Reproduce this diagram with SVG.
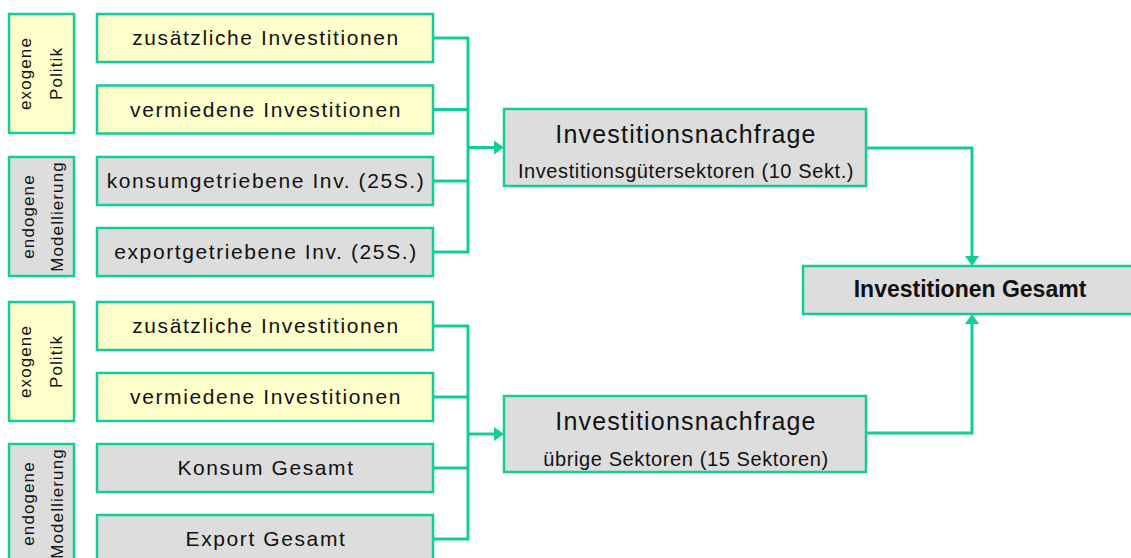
<svg xmlns="http://www.w3.org/2000/svg" width="1131" height="558" viewBox="0 0 1131 558">
<style>
  text { font-family: "Liberation Sans", Arial, sans-serif; fill: #111; }
  .box { stroke: #14CC9A; stroke-width: 2.5; }
  .yel { fill: #FFFFCC; }
  .gry { fill: #DDDDDD; }
  .lbl { font-size: 17px; letter-spacing: 1.1px; text-anchor: middle; }
  .src { font-size: 21px; letter-spacing: 1.6px; text-anchor: middle; }
  .ttl { font-size: 25px; letter-spacing: 1.2px; text-anchor: middle; }
  .sub { font-size: 20px; letter-spacing: 0.6px; text-anchor: middle; }
  .sum { font-size: 23px; font-weight: bold; text-anchor: middle; }
  .con { fill: none; stroke: #14CC9A; stroke-width: 3; }
</style>
<defs>
  <marker id="arr" markerWidth="11" markerHeight="14" refX="0" refY="7" orient="auto" markerUnits="userSpaceOnUse">
    <path d="M0,0 L10,7 L0,14 z" fill="#14CC9A"/>
  </marker>
</defs>

<g id="connectors">
  <path class="con" d="M433,38 H468 M433,109.5 H468 M433,181 H468 M433,252 H468 M468,36.5 V253.5"/>
  <path class="con" d="M468,147.5 H494" marker-end="url(#arr)"/>
  <path class="con" d="M433,326 H468 M433,397 H468 M433,468 H468 M433,539 H468 M468,324.5 V540.5"/>
  <path class="con" d="M468,434 H494" marker-end="url(#arr)"/>
  <path class="con" d="M866,148 H972 V256" marker-end="url(#arr)"/>
  <path class="con" d="M866,433 H972 V324" marker-end="url(#arr)"/>
</g>

<g id="label-exogene-top">
  <rect class="box yel" x="9" y="14" width="65" height="119"/>
  <text class="lbl" transform="translate(31,73.5) rotate(-90)">exogene</text>
  <text class="lbl" transform="translate(62,73.5) rotate(-90)">Politik</text>
</g>
<g id="label-endogene-top">
  <rect class="box gry" x="9" y="157" width="65" height="119"/>
  <text class="lbl" transform="translate(34,216.5) rotate(-90)">endogene</text>
  <text class="lbl" transform="translate(63,216.5) rotate(-90)">Modellierung</text>
</g>

<g id="top-zusaetzlich">
  <rect class="box yel" x="97" y="14" width="336" height="48"/>
  <text class="src" x="266" y="45">zusätzliche Investitionen</text>
</g>
<g id="top-vermiedene">
  <rect class="box yel" x="97" y="85.5" width="336" height="48"/>
  <text class="src" x="266" y="116.5">vermiedene Investitionen</text>
</g>
<g id="top-konsum">
  <rect class="box gry" x="97" y="157" width="336" height="48"/>
  <text class="src" x="266" y="188">konsumgetriebene Inv. (25S.)</text>
</g>
<g id="top-export">
  <rect class="box gry" x="97" y="228" width="336" height="48"/>
  <text class="src" x="266" y="259">exportgetriebene Inv. (25S.)</text>
</g>

<g id="label-exogene-bottom">
  <rect class="box yel" x="9" y="302" width="65" height="119"/>
  <text class="lbl" transform="translate(31,361.5) rotate(-90)">exogene</text>
  <text class="lbl" transform="translate(62,361.5) rotate(-90)">Politik</text>
</g>
<g id="label-endogene-bottom">
  <rect class="box gry" x="9" y="444" width="65" height="119"/>
  <text class="lbl" transform="translate(34,503.5) rotate(-90)">endogene</text>
  <text class="lbl" transform="translate(63,503.5) rotate(-90)">Modellierung</text>
</g>

<g id="bottom-zusaetzlich">
  <rect class="box yel" x="97" y="302" width="336" height="48"/>
  <text class="src" x="266" y="333">zusätzliche Investitionen</text>
</g>
<g id="bottom-vermiedene">
  <rect class="box yel" x="97" y="373" width="336" height="48"/>
  <text class="src" x="266" y="404">vermiedene Investitionen</text>
</g>
<g id="bottom-konsum">
  <rect class="box gry" x="97" y="444" width="336" height="48"/>
  <text class="src" x="266" y="475">Konsum Gesamt</text>
</g>
<g id="bottom-export">
  <rect class="box gry" x="97" y="515" width="336" height="48"/>
  <text class="src" x="266" y="546">Export Gesamt</text>
</g>

<g id="nachfrage-top">
  <rect class="box gry" x="504" y="109" width="362" height="77"/>
  <text class="ttl" x="686" y="143">Investitionsnachfrage</text>
  <text class="sub" x="686" y="178">Investitionsgütersektoren (10 Sekt.)</text>
</g>
<g id="nachfrage-bottom">
  <rect class="box gry" x="504" y="396" width="362" height="76"/>
  <text class="ttl" x="686" y="430">Investitionsnachfrage</text>
  <text class="sub" x="686" y="466">übrige Sektoren (15 Sektoren)</text>
</g>

<g id="investitionen-gesamt">
  <rect class="box gry" x="803" y="266" width="334" height="48"/>
  <text class="sum" x="970" y="297">Investitionen Gesamt</text>
</g>
</svg>
